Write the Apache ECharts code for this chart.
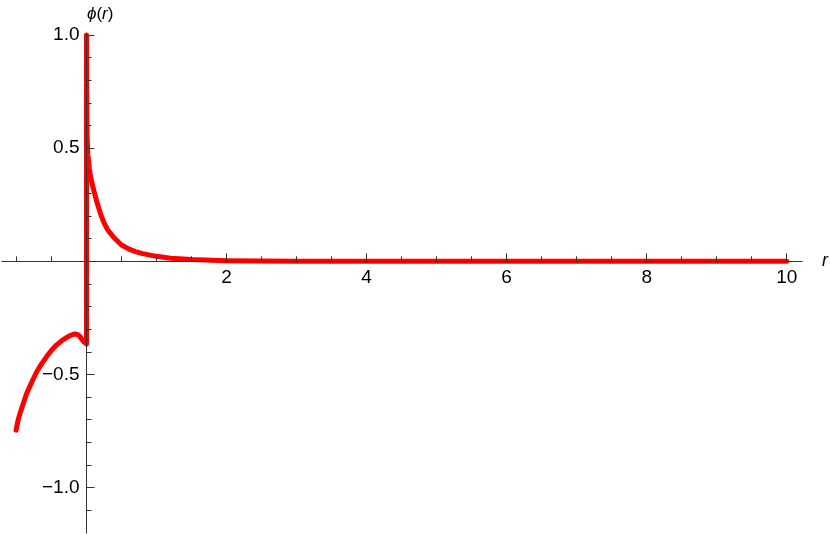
<!DOCTYPE html>
<html>
<head>
<meta charset="utf-8">
<script src="https://cdn.jsdelivr.net/npm/echarts@6/dist/echarts.min.js"></script>
<style>html,body{margin:0;padding:0;background:#fff}#c{width:830px;height:534px}</style>
</head>
<body>
<div id="c"></div>
<script>
// r < 0 branch
const rNeg   = [-1.007, -0.98, -0.95, -0.90, -0.854, -0.78, -0.711, -0.64, -0.569, -0.50, -0.426, -0.35, -0.283, -0.22, -0.164, -0.117, -0.09, -0.069, -0.05, -0.031, 0];
const phiNeg = [-0.746, -0.705, -0.672, -0.625, -0.583, -0.532, -0.488, -0.452, -0.421, -0.393, -0.369, -0.350, -0.336, -0.326, -0.321, -0.325, -0.334, -0.344, -0.352, -0.358, -0.365];
// r > 0 branch
const rPos   = [0, 0.003, 0.008, 0.02, 0.04, 0.06, 0.09, 0.115, 0.15, 0.2, 0.25, 0.3, 0.39, 0.5, 0.6, 0.7, 0.8, 1.0, 1.2, 1.5, 2, 2.5, 3, 4, 5, 6, 7, 8, 9, 10];
const phiPos = [1.0, 0.7, 0.55, 0.47, 0.41, 0.37, 0.33, 0.3, 0.26, 0.21, 0.17, 0.14, 0.105, 0.072, 0.055, 0.043, 0.034, 0.022, 0.014, 0.008, 0.003, 0.001, 0, 0, 0, 0, 0, 0, 0, 0];
// tick labels
const xMajor = [2, 4, 6, 8, 10];
const xMinor = [-1, -0.5, 0.5, 1, 1.5, 2.5, 3, 3.5, 4.5, 5, 5.5, 6.5, 7, 7.5, 8.5, 9, 9.5];
const yMajor = [-1, -0.5, 0.5, 1];
const yMinor = [-1.1, -0.9, -0.8, -0.7, -0.6, -0.4, -0.3, -0.2, -0.1, 0.1, 0.2, 0.3, 0.4, 0.6, 0.7, 0.8, 0.9];

const data = [];
rNeg.forEach((r, i) => data.push([r, phiNeg[i]]));
rPos.forEach((r, i) => data.push([r, phiPos[i]]));

const FONT = '"Liberation Sans", Arial, sans-serif';
const AX = '#333';
const G = {left: 1.8, top: 35, width: 800.3, height: 497.9};
const X_MIN = -1.21, X_MAX = 10.22, Y_MIN = -1.2, Y_MAX = 1.0;
// shift the axes from the grid edge to the zero lines
const xOff = -G.height * (0 - Y_MIN) / (Y_MAX - Y_MIN);
const yOff = -G.width * (0 - X_MIN) / (X_MAX - X_MIN);

const chart = echarts.init(document.getElementById('c'));
const xBase = {
  type: 'value', min: X_MIN, max: X_MAX, position: 'bottom', offset: xOff, z: 5,
  splitLine: {show: false},
  axisLine: {onZero: false, lineStyle: {color: AX, width: 1}}
};
const yBase = {
  type: 'value', min: Y_MIN, max: Y_MAX, position: 'left', offset: yOff, z: 5,
  splitLine: {show: false},
  axisLine: {onZero: false, lineStyle: {color: AX, width: 1}}
};
chart.setOption({
  animation: false,
  backgroundColor: '#fff',
  title: {
    text: '{i|\u03d5}({i|r})',
    left: 82, top: 1,
    textStyle: {fontFamily: FONT, fontSize: 17, fontWeight: 'normal', color: '#000',
      rich: {i: {fontFamily: FONT, fontSize: 17, fontStyle: 'italic', color: '#000'}}}
  },
  grid: Object.assign({containLabel: false, outerBoundsMode: 'none'}, G),
  xAxis: [
    Object.assign({}, xBase, {
      name: 'r', nameLocation: 'end', nameGap: 20,
      nameTextStyle: {fontFamily: FONT, fontSize: 18, fontStyle: 'italic', color: '#000'},
      axisTick: {show: true, inside: true, length: 8, customValues: xMajor, lineStyle: {color: AX}},
      axisLabel: {show: true, customValues: xMajor, margin: 7, fontFamily: FONT, fontSize: 19, color: '#000'}
    }),
    Object.assign({}, xBase, {
      axisLine: {show: false, onZero: false},
      axisTick: {show: true, inside: true, length: 5, customValues: xMinor, lineStyle: {color: AX}},
      axisLabel: {show: false}
    })
  ],
  yAxis: [
    Object.assign({}, yBase, {
      axisTick: {show: true, inside: true, length: 8, customValues: yMajor, lineStyle: {color: AX}},
      axisLabel: {show: true, customValues: yMajor, margin: 7, fontFamily: FONT, fontSize: 19, color: '#000',
        formatter: v => v.toFixed(1).replace('-', '\u2212')}
    }),
    Object.assign({}, yBase, {
      axisLine: {show: false, onZero: false},
      axisTick: {show: true, inside: true, length: 5, customValues: yMinor, lineStyle: {color: AX}},
      axisLabel: {show: false}
    })
  ],
  series: [{
    type: 'line', data: data, xAxisIndex: 0, yAxisIndex: 0,
    showSymbol: false, symbol: 'none', clip: false, z: 2,
    lineStyle: {color: '#ff0000', width: 5, cap: 'round', join: 'round'}
  }]
});
</script>
</body>
</html>
